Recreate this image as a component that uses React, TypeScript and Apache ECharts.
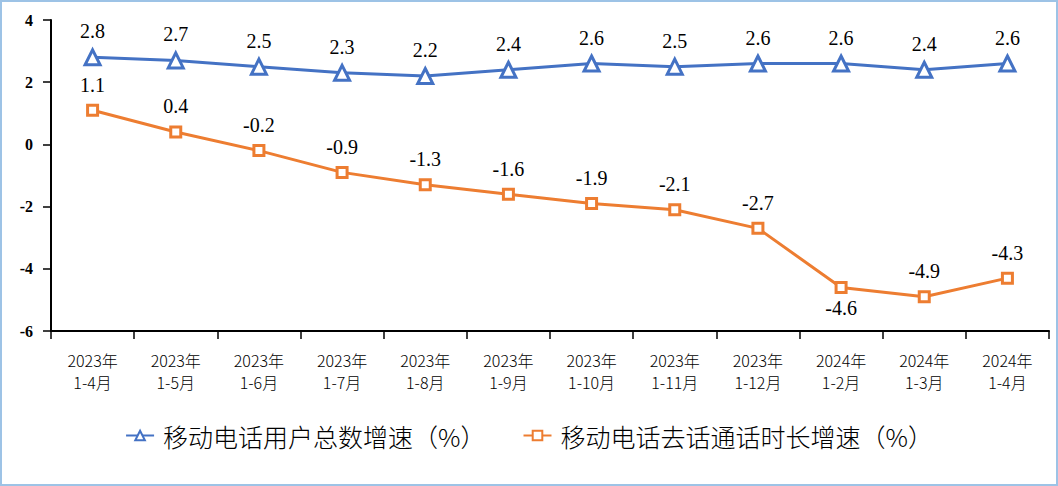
import React, { useEffect, useRef } from "react";
import * as echarts from "echarts";

const categories = [
  "2023年\n1-4月", "2023年\n1-5月", "2023年\n1-6月", "2023年\n1-7月",
  "2023年\n1-8月", "2023年\n1-9月", "2023年\n1-10月", "2023年\n1-11月",
  "2023年\n1-12月", "2024年\n1-2月", "2024年\n1-3月", "2024年\n1-4月",
];
const userGrowth = [2.8, 2.7, 2.5, 2.3, 2.2, 2.4, 2.6, 2.5, 2.6, 2.6, 2.4, 2.6];
const callGrowth = [1.1, 0.4, -0.2, -0.9, -1.3, -1.6, -1.9, -2.1, -2.7, -4.6, -4.9, -4.3];
const seriesNames = ["移动电话用户总数增速（%）", "移动电话去话通话时长增速（%）"];
const belowLabelIndex = [9];

export default function App() {
  const ref = useRef<HTMLDivElement>(null);
  useEffect(() => {
    document.body.style.margin = "0";
    const chart = echarts.init(ref.current!, null, { renderer: "svg" });
    const labelFont = {
      fontFamily: "'Liberation Serif', 'Times New Roman', serif",
      fontSize: 20,
      color: "#000",
    };
    chart.setOption({
      animation: false,
      backgroundColor: "#fff",
      grid: { left: 49, right: 7, top: 18, bottom: 153 },
      legend: {
        bottom: 31,
        left: "center",
        itemWidth: 28,
        itemHeight: 12,
        itemGap: 37,
        textStyle: {
          fontFamily: "'Noto Sans CJK SC', sans-serif",
          fontSize: 25,
          fontWeight: 300,
          color: "#000",
          padding: [0, 0, 0, 4],
        },
        data: seriesNames,
      },
      xAxis: {
        type: "category",
        data: categories,
        boundaryGap: true,
        axisLine: { show: true, onZero: false, lineStyle: { color: "#000", width: 2, opacity: 1 } },
        axisTick: { show: true, length: 8, inside: false, lineStyle: { color: "#000", width: 1.5, opacity: 1 } },
        axisLabel: {
          interval: 0,
          margin: 18,
          fontFamily: "'Noto Sans CJK SC', sans-serif",
          fontWeight: 300,
          fontSize: 16,
          lineHeight: 22,
          color: "#000",
        },
      },
      yAxis: {
        type: "value",
        min: -6,
        max: 4,
        interval: 2,
        splitLine: { show: false },
        axisLine: { show: true, onZero: false, lineStyle: { color: "#000", width: 2, opacity: 1 } },
        axisTick: { show: true, length: 8, lineStyle: { color: "#000", width: 1.5, opacity: 1 } },
        axisLabel: {
          margin: 18,
          fontFamily: "'Liberation Serif', 'Times New Roman', serif",
          fontWeight: "bold",
          fontSize: 16,
          color: "#000",
        },
      },
      series: [
        {
          name: seriesNames[0],
          type: "line",
          data: userGrowth,
          symbol: "triangle",
          symbolSize: 15,
          itemStyle: { color: "#fff", borderColor: "#4472c4", borderWidth: 3 },
          lineStyle: { color: "#4472c4", width: 3 },
          label: { show: true, position: "top", distance: 7, ...labelFont },
        },
        {
          name: seriesNames[1],
          type: "line",
          data: callGrowth.map((v, i) =>
            belowLabelIndex.includes(i)
              ? { value: v, label: { position: "bottom", distance: 4 } }
              : v
          ),
          symbol: "rect",
          symbolSize: 10,
          itemStyle: { color: "#fff", borderColor: "#ed7d31", borderWidth: 3 },
          lineStyle: { color: "#ed7d31", width: 3 },
          label: { show: true, position: "top", distance: 9, ...labelFont },
        },
      ],
    });
    return () => chart.dispose();
  }, []);
  return (
    <div
      style={{
        width: 1058,
        height: 486,
        boxSizing: "border-box",
        border: "2px solid #9dc3e6",
        background: "#fff",
      }}
    >
      <div ref={ref} style={{ width: 1054, height: 482 }} />
    </div>
  );
}
